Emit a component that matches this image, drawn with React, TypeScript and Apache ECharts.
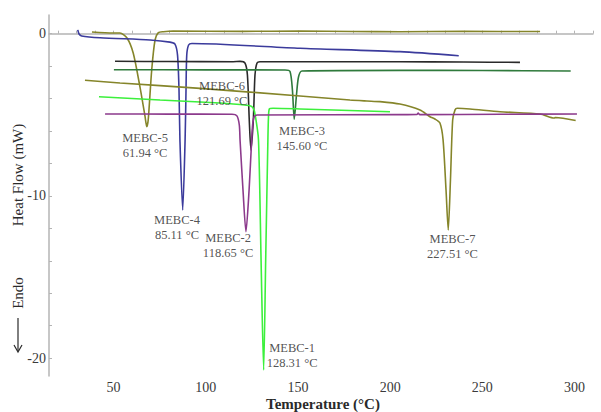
import React, { useEffect, useRef } from "react";
import * as echarts from "echarts";

// Temperature (°C), Heat Flow (mW)
const mebc5: number[][] = [
  [38.3, 0.1], [49.7, 0.04], [53.5, 0.04], [57.3, -0.27], [60.7, -1.21], [64.3, -3.27],
  [67.1, -5.12], [68.0, -5.73], [68.8, -5.32], [70.7, -2.24], [72.5, -0.39], [74.3, 0.06],
  [77.0, 0.12], [82.3, 0.16], [120, 0.14], [151.1, 0.16], [180, 0.13], [205.3, 0.12],
  [240, 0.14], [281.3, 0.13],
];
const mebc4: number[][] = [
  [30.6, 0.23], [31.3, -0.02], [32.7, -0.14], [42.7, -0.25], [69.8, -0.39], [80.6, -0.52],
  [83.3, -0.64], [84.7, -1.32], [85.5, -3.47], [86.0, -6.55], [87.5, -10.87], [88.8, -6.55],
  [89.3, -3.47], [89.7, -1.32], [90.7, -0.7], [92.5, -0.61], [151.1, -0.9], [205.3, -1.11],
  [237.2, -1.36],
];
const mebc6: number[][] = [
  [50.8, -1.7], [80, -1.72], [114.8, -1.73], [118.6, -1.71], [121.3, -1.81], [122.6, -2.55],
  [123.6, -5.32], [124.5, -7.17], [125.8, -5.32], [126.7, -2.55], [127.8, -1.81], [129.4, -1.73],
  [151.1, -1.73], [205.3, -1.73], [240, -1.75], [270.4, -1.77],
];
const mebc3: number[][] = [
  [50.2, -2.22], [100, -2.23], [143.0, -2.24], [145.7, -2.33], [147.0, -3.47], [148.0, -5.28],
  [149.2, -3.78], [150.3, -2.67], [152.2, -2.3], [205.3, -2.26], [250, -2.27], [297.9, -2.3],
];
const mebc7: number[][] = [
  [34.5, -2.87], [53.5, -3.04], [96.9, -3.37], [151.1, -3.84], [178.2, -4.09], [187.4, -4.15],
  [194.5, -4.19], [205.3, -4.34], [216.2, -4.71], [221.6, -5.12], [224.3, -5.26], [227.0, -5.51],
  [228.7, -6.55], [230.3, -9.64], [231.5, -12.1], [232.7, -9.02], [233.9, -5.32], [235.2, -4.7],
  [236.4, -4.6], [243.3, -4.64], [259.6, -4.81], [281.3, -4.95], [289.0, -5.2], [289.6, -5.17],
  [300.6, -5.35],
];
const mebc1: number[][] = [
  [42.1, -3.89], [75.2, -4.09], [107.7, -4.27], [118.6, -4.37], [123.5, -4.43], [125.7, -4.58],
  [126.8, -5.01], [128.6, -6.55], [130.0, -13.95], [131.4, -20.73], [132.5, -13.95], [133.7, -6.55],
  [134.0, -5.2], [134.5, -4.64], [136.5, -4.6], [151.1, -4.64], [199.9, -4.81],
];
const mebc2: number[][] = [
  [45.4, -4.95], [80, -4.96], [114.2, -4.97], [116.9, -5.07], [118.2, -5.63], [118.6, -6.55],
  [120.2, -9.64], [121.8, -12.21], [123.5, -9.64], [124.9, -6.55], [125.4, -5.63], [126.2, -5.14],
  [127.8, -5.01], [205.3, -4.99], [214.5, -4.98], [215.2, -4.9], [216, -4.99], [260, -4.97],
  [301.3, -4.95],
];

const seriesNames = ["MEBC-5", "MEBC-4", "MEBC-6", "MEBC-3", "MEBC-7", "MEBC-1", "MEBC-2"];
const seriesData = [mebc5, mebc4, mebc6, mebc3, mebc7, mebc1, mebc2];
const seriesColors = ["#85852a", "#3b3b9c", "#2a2a2a", "#2f7a3c", "#85852a", "#3cf03c", "#8c3a8c"];

// annotation texts and their anchor (°C, mW)
const peakLabels = [
  "MEBC-6\n121.69 °C", "MEBC-5\n61.94 °C", "MEBC-3\n145.60 °C", "MEBC-4\n85.11 °C",
  "MEBC-2\n118.65 °C", "MEBC-1\n128.31 °C", "MEBC-7\n227.51 °C",
];
const peakLabelPos: number[][] = [
  [108.8, -3.66], [67.1, -6.89], [152.2, -6.46], [84.4, -11.95],
  [112.1, -13.06], [146.8, -19.84], [233.8, -13.12],
];

const xTickLabels = [50, 100, 150, 200, 250, 300];
const xMinorTicks = [20, 30, 40, 50, 60, 70, 80, 90, 100, 110, 120, 130, 140, 150, 160, 170, 180, 190, 200, 210, 220, 230, 240, 250, 260, 270, 280, 290, 300, 310];
const yTickLabels = [0, -10, -20];
const yMinorTicks = [0, -2, -4, -6, -8, -10, -12, -14, -16, -18, -20];

const SERIF = "'Liberation Serif', 'Times New Roman', serif";

export default function App() {
  const ref = useRef<HTMLDivElement>(null);
  useEffect(() => {
    if (!ref.current) return;
    const chart = echarts.init(ref.current, undefined, { renderer: "svg" });
    const lines = seriesData.map((d, i) => ({
      type: "line",
      name: seriesNames[i],
      data: d,
      showSymbol: false,
      symbol: "none",
      smooth: 0.25,
      lineStyle: { color: seriesColors[i], width: 1.6 },
      z: 2,
    }));
    chart.setOption({
      animation: false,
      backgroundColor: "#ffffff",
      grid: { left: 49, right: 8, top: 15, bottom: 36 },
      xAxis: {
        type: "value",
        min: 15,
        max: 310,
        axisLine: { show: true, lineStyle: { color: "#b4b4b4", width: 1.5 } },
        axisTick: { show: true, inside: true, length: 3, customValues: xMinorTicks, lineStyle: { color: "#b4b4b4" } },
        axisLabel: { customValues: xTickLabels, color: "#3a3a3a", fontFamily: SERIF, fontSize: 14, margin: 4 },
        splitLine: { show: false },
      },
      yAxis: {
        type: "value",
        min: -21.1,
        max: 1.15,
        axisLine: { show: true, lineStyle: { color: "#b4b4b4", width: 1.5 } },
        axisTick: { show: true, inside: true, length: 3, customValues: yMinorTicks, lineStyle: { color: "#b4b4b4" } },
        axisLabel: { customValues: yTickLabels, color: "#3a3a3a", fontFamily: SERIF, fontSize: 14, margin: 3 },
        splitLine: { show: false },
      },
      series: [
        ...lines,
        {
          type: "scatter",
          symbolSize: 1,
          itemStyle: { color: "rgba(0,0,0,0)" },
          data: peakLabelPos.map((p, i) => ({ value: p, name: peakLabels[i] })),
          label: {
            show: true,
            position: "inside",
            formatter: "{b}",
            color: "#262626",
            fontFamily: SERIF,
            fontSize: 12.5,
            lineHeight: 15,
            align: "center",
          },
          z: 5,
        },
      ],
      graphic: [
        {
          type: "text",
          x: 18,
          y: 175,
          rotation: Math.PI / 2,
          style: {
            text: "Heat Flow (mW)",
            fill: "#2a2a2a",
            font: `15px ${SERIF}`,
            textAlign: "center",
            textVerticalAlign: "middle",
          },
        },
        {
          type: "text",
          x: 18,
          y: 293,
          rotation: Math.PI / 2,
          style: {
            text: "Endo",
            fill: "#2a2a2a",
            font: `15px ${SERIF}`,
            textAlign: "center",
            textVerticalAlign: "middle",
          },
        },
        {
          type: "line",
          shape: { x1: 18, y1: 318, x2: 18, y2: 351 },
          style: { stroke: "#2a2a2a", lineWidth: 1.2 },
        },
        {
          type: "polyline",
          shape: { points: [[14, 345], [18, 352], [22, 345]] },
          style: { stroke: "#2a2a2a", lineWidth: 1.2, fill: "none" },
        },
        {
          type: "text",
          x: 323,
          y: 404,
          style: {
            text: "Temperature (°C)",
            fill: "#2a2a2a",
            font: `bold 15px ${SERIF}`,
            textAlign: "center",
            textVerticalAlign: "middle",
          },
        },
      ],
    });
    return () => chart.dispose();
  }, []);
  return (
    <div
      ref={ref}
      style={{ position: "fixed", left: 0, top: 0, width: 601, height: 412, background: "#fff" }}
    />
  );
}
